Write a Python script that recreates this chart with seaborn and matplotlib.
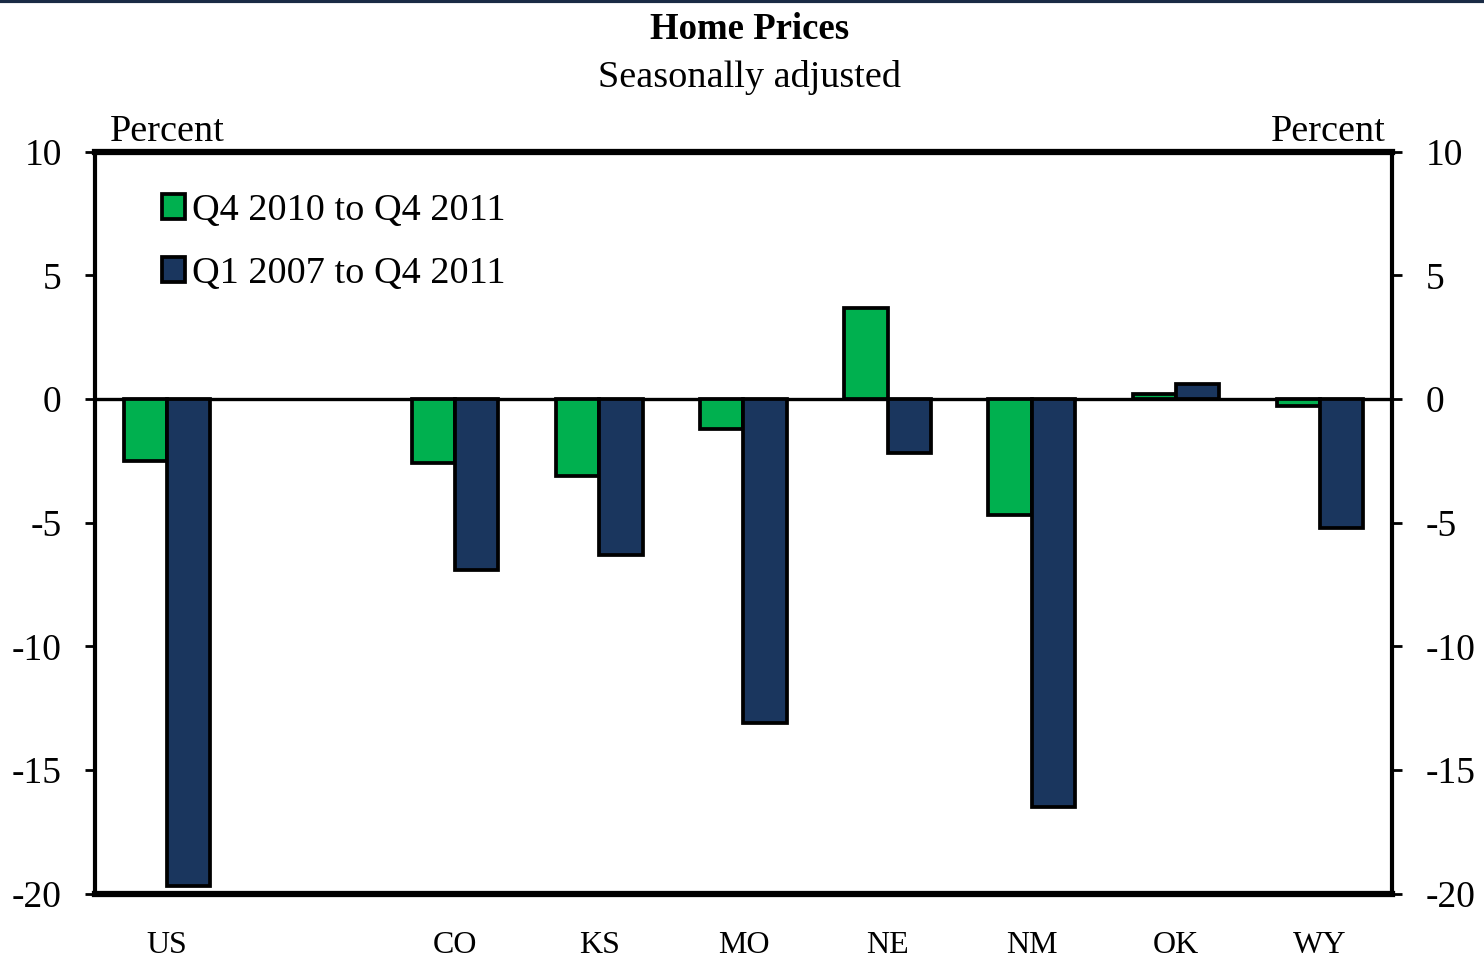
import pandas as pd
import numpy as np
import matplotlib
matplotlib.use('Agg')
import matplotlib.pyplot as plt
import seaborn as sns

# Data
states = ['US', ' ', 'CO', 'KS', 'MO', 'NE', 'NM', 'OK', 'WY']
data_states = ['US', 'CO', 'KS', 'MO', 'NE', 'NM', 'OK', 'WY']
series_names = ['Q4 2010 to Q4 2011', 'Q1 2007 to Q4 2011']
last_year = [-2.5, -2.6, -3.1, -1.2, 3.7, -4.7, 0.2, -0.3]
since_2007 = [-19.7, -6.9, -6.3, -13.1, -2.2, -16.5, 0.6, -5.2]
yticks = [-20, -15, -10, -5, 0, 5, 10]

green = '#00B04F'
navy = '#1A365E'

df = pd.DataFrame({
    'state': data_states * 2,
    'series': [series_names[0]] * len(data_states) + [series_names[1]] * len(data_states),
    'value': last_year + since_2007,
})

sns.set_style('white')
plt.rcParams['font.family'] = ['Liberation Serif', 'DejaVu Serif']
plt.rcParams['text.color'] = 'black'
plt.rcParams['xtick.color'] = 'black'
plt.rcParams['ytick.color'] = 'black'

fig = plt.figure(figsize=(14.84, 9.6), dpi=100)
ax = fig.add_axes([0.064, 0.069, 0.874, 0.773])

sns.barplot(data=df, x='state', y='value', hue='series', order=states,
            hue_order=series_names, palette=[green, navy], width=0.6,
            edgecolor='black', linewidth=2.7, saturation=1, ax=ax)

ax.axhline(0, color='black', linewidth=2.4, zorder=0.5)
ax.set_ylim(-20, 10)
ax.set_xlim(-0.5, len(states) - 0.5)
ax.set_yticks(yticks)
ax.set_yticklabels([str(t) for t in yticks])
ax.set_xlabel('')
ax.set_ylabel('')

ax.tick_params(axis='y', which='both', left=True, right=True, labelleft=True,
               labelright=True, direction='out', length=7, width=2,
               labelsize=27, pad=17, color='black')
ax.tick_params(axis='x', length=0, labelsize=23, pad=27)

for side in ['left', 'right']:
    ax.spines[side].set_linewidth(3)
    ax.spines[side].set_color('black')
for side in ['top', 'bottom']:
    ax.spines[side].set_linewidth(4.5)
    ax.spines[side].set_color('black')

leg = ax.legend(loc='upper left', bbox_to_anchor=(0.028, 0.985), frameon=False,
                fontsize=27.5, handlelength=0.6, handleheight=0.6,
                handletextpad=0.2, labelspacing=0.75, borderpad=0.3)
for h in leg.legend_handles:
    h.set_edgecolor('black')
    h.set_linewidth(2.7)

fig.text(0.505, 0.969, 'Home Prices', ha='center', va='center',
         fontsize=26.5, fontweight='bold')
fig.text(0.505, 0.919, 'Seasonally adjusted', ha='center', va='center',
         fontsize=27.5)
fig.text(0.074, 0.863, 'Percent', ha='left', va='center', fontsize=27.5)
fig.text(0.934, 0.863, 'Percent', ha='right', va='center', fontsize=27.5)

# thin dark band on top edge
fig.add_artist(plt.Line2D([0, 1], [0.999, 0.999], color='#1A2B45',
                          linewidth=3, transform=fig.transFigure))

fig.savefig('out.png', dpi=100)
